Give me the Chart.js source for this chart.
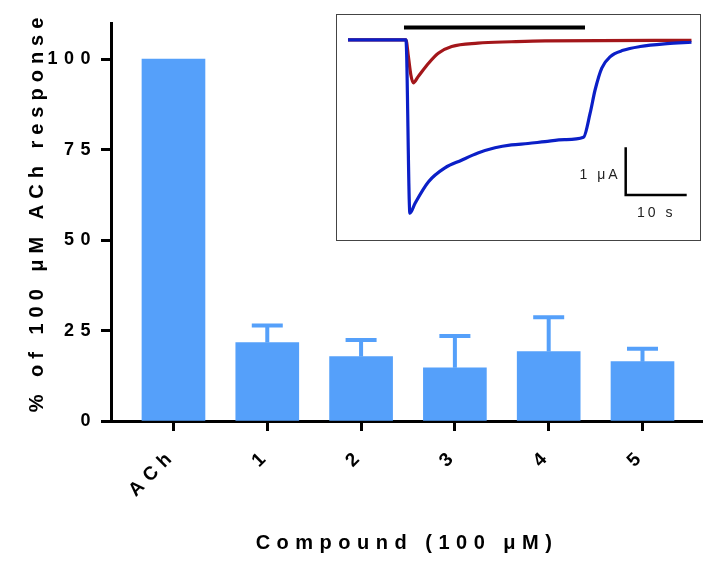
<!DOCTYPE html>
<html>
<head>
<meta charset="utf-8">
<script src="https://cdn.jsdelivr.net/npm/chart.js@4.4.1/dist/chart.umd.min.js"></script>
<style>
body { margin: 0; background: #fff; }
#wrap { position: relative; width: 703px; height: 563px; }
#inset { position: absolute; left: 336px; top: 14px; width: 363px; height: 225px; border: 1px solid #444; background: #fff; }
canvas { display: block; }
</style>
</head>
<body>
<div id="wrap">
  <canvas id="bars" width="703" height="563"></canvas>
  <div id="inset"><canvas id="trace" width="363" height="225"></canvas></div>
</div>
<script>
// main bar chart
var compounds = ['ACh', '1', '2', '3', '4', '5'];
var response = [100, 21.7, 17.8, 14.7, 19.2, 16.4];
var sem = [0, 4.7, 4.6, 8.8, 9.5, 3.6];
var yTicks = [0, 25, 50, 75, 100];
var yTitle = '% of 100 \u03bcM ACh response';
var xTitle = 'Compound (100 \u03bcM)';

// inset traces: time (s) and current (uA)
var blueT = [0, 9.5, 10.15, 11.0, 13.2, 15.9, 18.6, 21.3, 24.1, 26.8, 29.5, 32.3, 35.5, 38.6, 39.7, 40.5, 41.6, 43.0, 45.1, 47.9, 52.3, 56.3];
var blueI = [0, 0, -3.63, -3.42, -2.97, -2.68, -2.52, -2.37, -2.26, -2.20, -2.17, -2.13, -2.09, -2.04, -1.53, -1.05, -0.59, -0.35, -0.22, -0.14, -0.08, -0.05];
var redT = [0, 9.5, 9.9, 10.3, 10.7, 11.5, 13.2, 14.8, 17.0, 21.3, 26.8, 32.3, 56.3];
var redI = [0, 0, -0.35, -0.73, -0.90, -0.77, -0.49, -0.28, -0.14, -0.07, -0.04, -0.02, -0.01];
var stimT = [9.18, 38.85];
var stimI = [0.258, 0.258];
var scaleT = [45.52, 45.52, 55.52];
var scaleI = [-2.25, -3.25, -3.25];
var scaleLabels = ['1 \u03bcA', '10 s'];

var barColor = '#55a0fa';
var fam = '"Liberation Sans", Arial, sans-serif';

function zip(xs, ys) {
  return xs.map(function (x, i) { return { x: x, y: ys[i] }; });
}

// prism style wide letter spacing
var spacing = {
  id: 'spacing',
  beforeLayout: function (c) { c.ctx.letterSpacing = '6.5px'; },
  beforeDraw: function (c) { c.ctx.letterSpacing = '6.5px'; }
};

// y title drawn by hand so it sits where the original has it
var yTitlePlugin = {
  id: 'yTitle',
  afterDraw: function (chart) {
    var ctx = chart.ctx;
    ctx.save();
    ctx.letterSpacing = '6px';
    ctx.font = 'bold 20px ' + fam;
    ctx.fillStyle = '#000';
    ctx.textAlign = 'center';
    ctx.textBaseline = 'middle';
    ctx.translate(37, 212);
    ctx.rotate(-Math.PI / 2);
    ctx.fillText(yTitle, 0, 0);
    ctx.restore();
  }
};

var errorBars = {
  id: 'errorBars',
  afterDatasetsDraw: function (chart) {
    var ctx = chart.ctx, xs = chart.scales.x, ys = chart.scales.y;
    ctx.save();
    ctx.strokeStyle = barColor;
    ctx.lineWidth = 4;
    for (var i = 0; i < response.length; i++) {
      if (!sem[i]) continue;
      var px = xs.getPixelForValue(i);
      var y0 = ys.getPixelForValue(response[i]);
      var y1 = ys.getPixelForValue(response[i] + sem[i]);
      ctx.beginPath();
      ctx.moveTo(px, y0);
      ctx.lineTo(px, y1);
      ctx.moveTo(px - 15.5, y1);
      ctx.lineTo(px + 15.5, y1);
      ctx.stroke();
    }
    ctx.restore();
  }
};

new Chart(document.getElementById('bars'), {
  type: 'bar',
  data: {
    datasets: [{
      data: zip(compounds.map(function (c, i) { return i; }), response),
      backgroundColor: barColor,
      borderWidth: 0,
      barThickness: 63
    }]
  },
  options: {
    responsive: false,
    animation: false,
    layout: { padding: { top: 23, left: 0, right: 0, bottom: 0 } },
    plugins: { legend: { display: false }, tooltip: { enabled: false } },
    scales: {
      x: {
        type: 'linear',
        offset: false,
        min: -0.666,
        max: 5.645,
        afterBuildTicks: function (s) { s.ticks = compounds.map(function (c, i) { return { value: i }; }); },
        afterFit: function (s) { s.height = 142; },
        grid: { offset: false, drawOnChartArea: false, drawTicks: true, tickLength: 10, tickWidth: 3, tickColor: '#000' },
        border: { display: true, color: '#000', width: 3 },
        ticks: {
          autoSkip: false, minRotation: 45, maxRotation: 45, padding: 13, color: '#000',
          font: { family: fam, size: 19, weight: 'bold' },
          callback: function (v) { return compounds[v]; }
        },
        title: {
          display: true, text: xTitle, color: '#000',
          font: { family: fam, size: 20, weight: 'bold' },
          padding: { top: 0, bottom: 8 }
        }
      },
      y: {
        min: 0,
        max: 110,
        afterBuildTicks: function (s) { s.ticks = yTicks.map(function (v) { return { value: v }; }); },
        afterFit: function (s) { s.width = 111; },
        grid: { drawOnChartArea: false, drawTicks: true, tickLength: 10, tickWidth: 3, tickColor: '#000' },
        border: { display: true, color: '#000', width: 3 },
        ticks: { padding: 4, color: '#000', font: { family: fam, size: 18, weight: 'bold' } },
        title: { display: false }
      }
    }
  },
  plugins: [spacing, errorBars, yTitlePlugin]
});

var scaleText = {
  id: 'scaleText',
  afterDatasetsDraw: function (chart) {
    var ctx = chart.ctx, xs = chart.scales.x, ys = chart.scales.y;
    ctx.save();
    ctx.letterSpacing = '3px';
    ctx.font = '14px ' + fam;
    ctx.fillStyle = '#222';
    ctx.textBaseline = 'middle';
    ctx.textAlign = 'right';
    ctx.fillText(scaleLabels[0], xs.getPixelForValue(scaleT[0]) - 5, ys.getPixelForValue((scaleI[0] + scaleI[1]) / 2) + 4);
    ctx.textAlign = 'center';
    ctx.fillText(scaleLabels[1], xs.getPixelForValue((scaleT[1] + scaleT[2]) / 2), ys.getPixelForValue(scaleI[2]) + 18);
    ctx.restore();
  }
};

new Chart(document.getElementById('trace'), {
  type: 'line',
  data: {
    datasets: [
      { data: zip(blueT, blueI), borderColor: '#0b1fc7', borderWidth: 3.2, cubicInterpolationMode: 'monotone' },
      { data: zip(redT, redI), borderColor: '#a3161a', borderWidth: 3.2, cubicInterpolationMode: 'monotone' },
      { data: zip(stimT, stimI), borderColor: '#000', borderWidth: 4 },
      { data: zip(scaleT, scaleI), borderColor: '#000', borderWidth: 2.5, borderJoinStyle: 'miter' }
    ]
  },
  options: {
    responsive: false,
    animation: false,
    layout: { padding: 0 },
    elements: { point: { radius: 0 }, line: { tension: 0, borderJoinStyle: 'round', fill: false } },
    plugins: { legend: { display: false }, tooltip: { enabled: false } },
    scales: {
      x: { type: 'linear', display: false, min: -1.8, max: 57.7 },
      y: { type: 'linear', display: false, min: -4.19, max: 0.52 }
    }
  },
  plugins: [scaleText]
});
</script>
</body>
</html>
